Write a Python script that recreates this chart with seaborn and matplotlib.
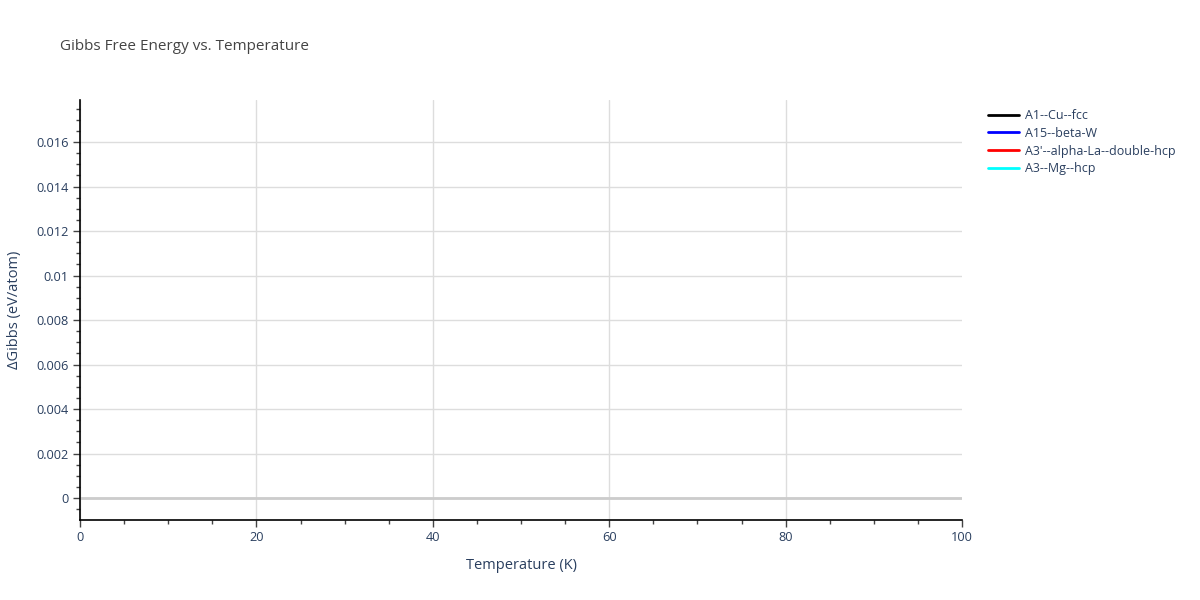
import matplotlib
matplotlib.use("Agg")
import matplotlib.pyplot as plt
import seaborn as sns
from matplotlib.ticker import MultipleLocator

# -----------------------------
# Data — the reference shows no visible curves, only the legend
# -----------------------------
structures = ["A1--Cu--fcc", "A15--beta-W", "A3'--alpha-La--double-hcp", "A3--Mg--hcp"]
line_colors = ["black", "blue", "red", "cyan"]
temperature = []          # no points are drawn in the reference
delta_gibbs = []

x_ticks = [0, 20, 40, 60, 80, 100]
y_ticks = [0, 0.002, 0.004, 0.006, 0.008, 0.01, 0.012, 0.014, 0.016]
y_tick_labels = ["0", "0.002", "0.004", "0.006", "0.008", "0.01", "0.012", "0.014", "0.016"]

# -----------------------------
# Style
# -----------------------------
sns.set_style("ticks")
plt.rcParams['font.family'] = ['Open Sans', 'DejaVu Sans']
text_col = "#2a3f5f"

fig = plt.figure(figsize=(12, 6), dpi=100)
ax = fig.add_axes([80/1200, 80/600, 882/1200, 420/600])

for name, col in zip(structures, line_colors):
    ax.plot(temperature, delta_gibbs, color=col, label=name, linewidth=2)

ax.set_xlim(0, 100)
ax.set_ylim(-0.000989, 0.01789)
ax.set_xticks(x_ticks)
ax.set_yticks(y_ticks)
ax.set_yticklabels(y_tick_labels)
ax.xaxis.set_minor_locator(MultipleLocator(5))
ax.yaxis.set_minor_locator(MultipleLocator(0.0005))

ax.grid(True, which="major", color="#dddddd", linewidth=1)
ax.xaxis.get_gridlines()[-1].set_visible(False)
ax.axhline(0, color="#cccccc", linewidth=2, zorder=1)
for s in ["top", "right"]:
    ax.spines[s].set_visible(False)
for s in ["left", "bottom"]:
    ax.spines[s].set_color("black")
    ax.spines[s].set_linewidth(1.2)

ax.tick_params(axis="both", which="major", direction="out", length=5, width=1,
               color="#444444", labelsize=9.2, labelcolor=text_col, pad=3,
               bottom=True, left=True)
ax.tick_params(axis="both", which="minor", direction="out", length=3, width=1,
               color="#444444", bottom=True, left=True)

ax.set_xlabel("Temperature (K)", fontsize=10.5, color=text_col, labelpad=10)
ax.set_ylabel("\u0394Gibbs (eV/atom)", fontsize=10.5, color=text_col, labelpad=10)
fig.text(60/1200, 1 - 46/600, "Gibbs Free Energy vs. Temperature", fontsize=11,
         color="#444444", va="center", ha="left")

ax.legend(loc="upper left",
          bbox_to_anchor=(983/1200, 1 - 104/600), bbox_transform=fig.transFigure,
          frameon=False, fontsize=9, labelcolor=text_col, handlelength=2.5,
          handletextpad=0.45, labelspacing=0.38, borderaxespad=0)

fig.savefig("out.png", dpi=100)
plt.close(fig)
